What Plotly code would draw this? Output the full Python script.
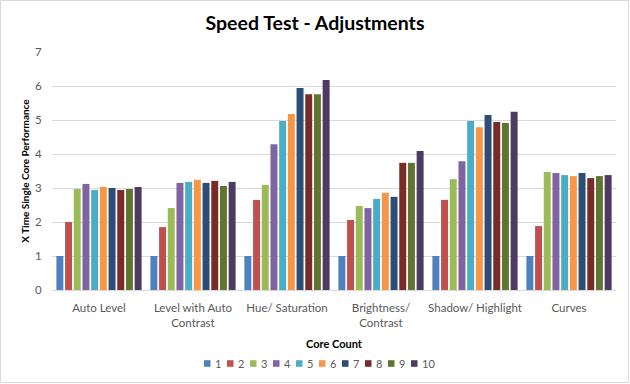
import plotly.graph_objects as go

categories = ["Auto Level", "Level with Auto<br>Contrast", "Hue/ Saturation",
              "Brightness/<br>Contrast", "Shadow/ Highlight", "Curves"]
core_counts = ["1", "2", "3", "4", "5", "6", "7", "8", "9", "10"]

# values per core count across categories
v1 = [1.00, 1.00, 1.00, 1.00, 1.00, 1.00]
v2 = [2.00, 1.85, 2.65, 2.06, 2.65, 1.88]
v3 = [2.97, 2.41, 3.09, 2.47, 3.26, 3.47]
v4 = [3.12, 3.15, 4.29, 2.41, 3.79, 3.44]
v5 = [2.94, 3.18, 4.97, 2.68, 4.97, 3.38]
v6 = [3.03, 3.24, 5.18, 2.86, 4.79, 3.35]
v7 = [3.00, 3.15, 5.94, 2.74, 5.15, 3.44]
v8 = [2.94, 3.21, 5.76, 3.74, 4.94, 3.29]
v9 = [2.97, 3.06, 5.76, 3.74, 4.91, 3.35]
v10 = [3.03, 3.18, 6.18, 4.09, 5.24, 3.38]
series = [v1, v2, v3, v4, v5, v6, v7, v8, v9, v10]

colors = ["#4F81BD", "#C0504D", "#9BBB59", "#8064A2", "#4BACC6",
          "#F79646", "#2C4D75", "#772C2A", "#5F7530", "#4D3B62"]

FONT = "Lato, 'Open Sans', sans-serif"

fig = go.Figure()
for name, vals, c in zip(core_counts, series, colors):
    fig.add_trace(go.Bar(name=name, x=categories, y=vals, showlegend=False,
                         marker=dict(color=c, line=dict(width=0))))

W, H = 630, 384
ml, mr, mt, mb = 52, 14, 52, 94
pw, ph = W - ml - mr, H - mt - mb

def px_x(x):
    return (x - ml) / pw

def px_y(y):
    return (H - mb - y) / ph

shapes = [dict(type="rect", xref="paper", yref="paper",
               x0=px_x(0.5), x1=px_x(W - 1.5), y0=px_y(H - 1.5), y1=px_y(0.5),
               line=dict(color="#D9D9D9", width=1), layer="below")]
annotations = []

# compact legend below the axis title (Excel style)
leg_y = 363.5
leg_x0 = 204
leg_step = 23
for i, (name, c) in enumerate(zip(core_counts, colors)):
    sx = leg_x0 + i * leg_step
    shapes.append(dict(type="rect", xref="paper", yref="paper",
                       x0=px_x(sx), x1=px_x(sx + 6.5),
                       y0=px_y(leg_y + 3.3), y1=px_y(leg_y - 3.3),
                       fillcolor=c, line=dict(width=0)))
    annotations.append(dict(text=name, xref="paper", yref="paper",
                            x=px_x(sx + 8.5), y=px_y(leg_y), xanchor="left",
                            yanchor="middle", showarrow=False,
                            font=dict(size=11, color="#595959")))

fig.update_layout(
    width=W, height=H,
    margin=dict(l=ml, r=mr, t=mt, b=mb),
    paper_bgcolor="white", plot_bgcolor="white",
    barmode="group", bargap=0.075, bargroupgap=0.2,
    showlegend=False,
    font=dict(family=FONT, size=11, color="#595959"),
    title=dict(text="<b>Speed Test - Adjustments</b>", x=0.5, xanchor="center",
               y=1 - 23 / H, yanchor="middle",
               font=dict(family=FONT, size=19.5, color="#000000")),
    xaxis=dict(showgrid=False, showline=True, linecolor="#D9D9D9",
               ticks="outside", ticklen=7, tickcolor="rgba(0,0,0,0)",
               tickfont=dict(size=11.5, color="#595959"),
               title=dict(text="<b>Core Count</b>", standoff=12,
                          font=dict(size=11, color="#000000"))),
    yaxis=dict(range=[0, 7], dtick=1, showgrid=True, gridcolor="#D9D9D9",
               zeroline=False, showline=False,
               ticks="outside", ticklen=7, tickcolor="rgba(0,0,0,0)",
               tickfont=dict(size=11.5, color="#595959"),
               title=dict(text="<b>X Time Single Core Performance</b>", standoff=3,
                          font=dict(size=10, color="#000000"))),
    shapes=shapes,
    annotations=annotations,
)

fig.write_html("out.html", config={"displayModeBar": False},
               post_script="document.body.style.margin='0px';")
